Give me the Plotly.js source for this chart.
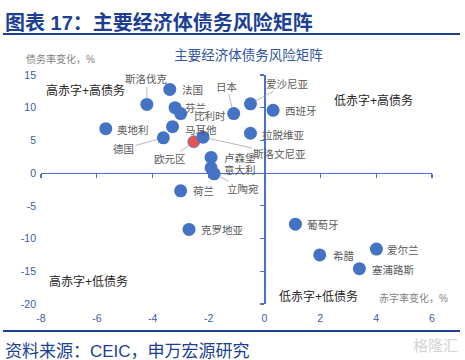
<!DOCTYPE html>
<html>
<head>
<meta charset="utf-8">
<script src="https://cdn.plot.ly/plotly-3.0.1.min.js"></script>
<style>html,body{margin:0;padding:0;background:#fff;}#chart{width:465px;height:360px;}</style>
</head>
<body>
<div id="chart"></div>
<script>
// ---- data ----
const countries = ['斯洛伐克','法国','芬兰','比利时','奥地利','马耳他','德国','斯洛文尼亚','卢森堡','意大利','立陶宛','荷兰','克罗地亚','日本','爱沙尼亚','西班牙','拉脱维亚','葡萄牙','希腊','爱尔兰','塞浦路斯'];
const deficitChange = [-4.21,-3.39,-3.2,-3.0,-5.68,-3.29,-3.62,-2.2,-1.91,-1.91,-1.8,-3.0,-2.7,-1.1,-0.5,0.31,-0.5,1.11,1.98,4.01,3.4];
const debtChange = [10.5,12.8,10.0,9.1,6.8,7.1,5.4,5.5,2.4,0.8,-0.1,-2.7,-8.6,9.1,10.6,9.6,6.1,-7.8,-12.5,-11.6,-14.6];
const euroName = '欧元区';
const euroDeficit = [-2.53];
const euroDebt = [4.8];
const xTicks = [-8,-6,-4,-2,0,2,4,6];
const yTicks = [-20,-15,-10,-5,0,5,10,15];
const quadrantLabels = ['高赤字+高债务','低赤字+高债务','高赤字+低债务','低赤字+低债务'];
const quadrantX = [-6.41,3.91,-6.29,1.94];
const quadrantY = [12.7,11.1,-16.5,-18.9];

// ---- label placement (pixel offsets, style only) ----
const labelOffsets = {
  '斯洛伐克':[0,-25,true], '法国':[23,1], '芬兰':[20,0], '比利时':[29,2], '奥地利':[27,1],
  '马耳他':[28,3], '德国':[-40,11,true], '欧元区':[-24,17,true], '斯洛文尼亚':[77,17,true],
  '卢森堡':[29,1], '意大利':[29,2], '立陶宛':[29,15,true], '荷兰':[23,0], '克罗地亚':[33,1],
  '日本':[-7,-27,true], '爱沙尼亚':[37,-20,true], '西班牙':[28,1], '拉脱维亚':[33,2],
  '葡萄牙':[28,1], '希腊':[24,1], '爱尔兰':[27,1], '塞浦路斯':[34,1]
};

const FONT = 'Liberation Sans, "Noto Sans CJK SC", sans-serif';
const BLUE = '#4472C4';
const AXISBLUE = '#4A72C8';
const TICKBLUE = '#3B5BA5';
const DARKBLUE = '#1C3F94';

function pointLabel(name, x, y) {
  const o = labelOffsets[name] || [25,0];
  const base = {x: x, y: y, xref: 'x', yref: 'y', text: name,
    font: {family: FONT, size: 10.5, color: '#595959'}};
  if (o[2]) {
    return Object.assign(base, {showarrow: true, arrowhead: 0, arrowwidth: 0.8,
      arrowcolor: '#A6A6A6', ax: o[0], ay: o[1], standoff: 6});
  }
  return Object.assign(base, {showarrow: false, xshift: o[0], yshift: -o[1]});
}

const annotations = [];
countries.forEach((c, i) => annotations.push(pointLabel(c, deficitChange[i], debtChange[i])));
annotations.push(pointLabel(euroName, euroDeficit[0], euroDebt[0]));
quadrantLabels.forEach((t, i) => annotations.push({
  x: quadrantX[i], y: quadrantY[i], xref: 'x', yref: 'y', text: t, showarrow: false,
  font: {family: FONT, size: 12, color: '#262626'}
}));

// paper coordinate helpers (plot area 41..432 x, 75..304 y)
const px = v => (v - 41) / 391;
const py = v => (304 - v) / 229;

annotations.push(
  {xref:'paper', yref:'paper', x: px(3), y: py(22), xanchor:'left', yanchor:'middle', showarrow:false,
   text:'<b>图表 17：主要经济体债务风险矩阵</b>', font:{family: FONT, size: 20, color: DARKBLUE}},
  {xref:'paper', yref:'paper', x: px(3), y: py(351), xanchor:'left', yanchor:'middle', showarrow:false,
   text:'资料来源：CEIC，申万宏源研究', font:{family: FONT, size: 17, color: DARKBLUE}},
  {xref:'paper', yref:'paper', x: px(24), y: py(59), xanchor:'left', yanchor:'middle', showarrow:false,
   text:'债务率变化，%', font:{family: FONT, size: 10, color: '#7F7F7F'}},
  {xref:'paper', yref:'paper', x: px(377), y: py(298), xanchor:'left', yanchor:'middle', showarrow:false,
   text:'赤字率变化，%', font:{family: FONT, size: 10, color: '#7F7F7F'}},
  {xref:'paper', yref:'paper', x: px(460), y: py(345), xanchor:'right', yanchor:'middle', showarrow:false,
   text:'格隆汇', font:{family: FONT, size: 15, color: '#D4D4D4'}}
);

const traces = [
  {type:'scatter', mode:'markers', x: euroDeficit, y: euroDebt, name: euroName,
   marker:{size:12, color:'#E8544E', line:{color:'#5B7FD0', width:0.8}}, hoverinfo:'skip'},
  {type:'scatter', mode:'markers', x: deficitChange, y: debtChange, text: countries, name:'经济体',
   marker:{size:13, color: BLUE}, hoverinfo:'skip'},
  {type:'scatter', mode:'markers', x: [], y: [], xaxis:'x2', yaxis:'y2', showlegend:false, hoverinfo:'skip'}
];

const layout = {
  width: 465, height: 360,
  margin: {l: 41, r: 33, t: 75, b: 56},
  paper_bgcolor: '#fff', plot_bgcolor: '#fff',
  showlegend: false,
  font: {family: FONT},
  title: {text: '主要经济体债务风险矩阵', x: 248.5/465, xanchor: 'center', y: 1 - 55/360, yanchor: 'middle',
          font: {family: FONT, size: 13.5, color: '#2F55A4'}},
  xaxis: {range: [-8, 6], tickvals: xTicks, ticktext: xTicks.map(String), showgrid: false, zeroline: false,
          showline: false, ticks: '', ticklabelstandoff: 6,
          tickfont: {family: FONT, size: 10.5, color: TICKBLUE}, fixedrange: true},
  yaxis: {range: [-20, 15], tickvals: yTicks, ticktext: yTicks.map(String), showgrid: false, zeroline: false,
          showline: false, ticks: '', ticklabelstandoff: 4,
          tickfont: {family: FONT, size: 10.5, color: TICKBLUE}, fixedrange: true},
  xaxis2: {overlaying: 'x', anchor: 'free', position: 20/35, range: [-8, 6], tickvals: xTicks,
           showticklabels: false, showgrid: false, zeroline: false, showline: true, linecolor: AXISBLUE,
           linewidth: 1.2, ticks: 'outside', ticklen: 4, tickcolor: AXISBLUE, tickwidth: 1.2, side: 'bottom'},
  yaxis2: {overlaying: 'y', anchor: 'free', position: 8/14, range: [-20, 15], tickvals: yTicks,
           showticklabels: false, showgrid: false, zeroline: false, showline: true, linecolor: AXISBLUE,
           linewidth: 1.2, ticks: 'outside', ticklen: 4, tickcolor: AXISBLUE, tickwidth: 1.2, side: 'left'},
  shapes: [
    {type:'line', xref:'paper', yref:'paper', x0: px(3), x1: px(460), y0: py(34), y1: py(34),
     line:{color: DARKBLUE, width: 2}},
    {type:'line', xref:'paper', yref:'paper', x0: px(3), x1: px(460), y0: py(331), y1: py(331),
     line:{color: DARKBLUE, width: 2}}
  ],
  annotations: annotations
};

Plotly.newPlot('chart', traces, layout, {staticPlot: true, displayModeBar: false});
</script>
</body>
</html>
